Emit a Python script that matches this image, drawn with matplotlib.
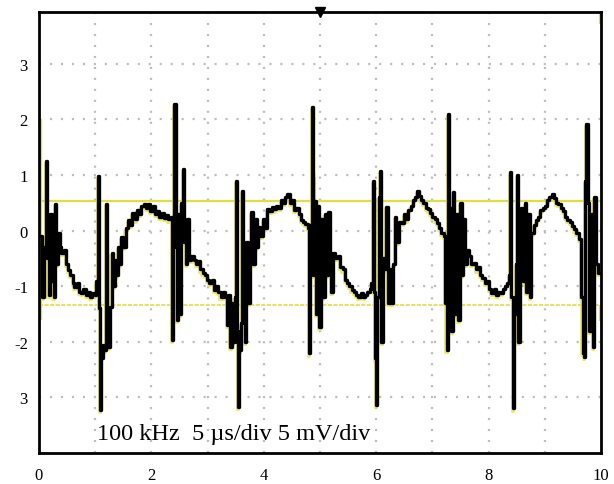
import numpy as np
import matplotlib
matplotlib.use("Agg")
import matplotlib.pyplot as plt
import matplotlib.transforms as mtransforms

plt.rcParams["font.family"] = ["Liberation Serif", "DejaVu Serif"]
plt.rcParams["lines.scale_dashes"] = False

# ---- scope trace (divisions) ----
trace_t = [0.03, 0.06, 0.09, 0.12, 0.14, 0.17, 0.20, 0.23, 0.26, 0.29, 0.31, 0.34, 0.37, 0.40,
           0.44, 0.48, 0.52, 0.56, 0.60, 0.63, 0.67, 0.71, 0.75, 0.79, 0.83, 0.87, 0.91, 0.95,
           0.99, 1.02, 1.05, 1.07, 1.08, 1.10, 1.13, 1.16, 1.19, 1.21, 1.23, 1.26, 1.29, 1.32,
           1.35, 1.38, 1.41, 1.44, 1.46, 1.50, 1.54, 1.58, 1.62, 1.66, 1.70, 1.74, 1.78, 1.82,
           1.86, 1.90, 1.94, 1.98, 2.02, 2.06, 2.10, 2.14, 2.18, 2.22, 2.26, 2.30, 2.34, 2.37,
           2.39, 2.41, 2.43, 2.45, 2.48, 2.50, 2.53, 2.56, 2.58, 2.61, 2.64, 2.67, 2.71, 2.75,
           2.79, 2.83, 2.87, 2.91, 2.95, 2.99, 3.03, 3.07, 3.11, 3.15, 3.19, 3.23, 3.27, 3.31,
           3.34, 3.37, 3.40, 3.43, 3.46, 3.48, 3.51, 3.53, 3.54, 3.56, 3.59, 3.61, 3.63, 3.66,
           3.69, 3.72, 3.75, 3.78, 3.81, 3.84, 3.87, 3.90, 3.94, 3.98, 4.02, 4.06, 4.10, 4.14,
           4.18, 4.22, 4.26, 4.30, 4.34, 4.38, 4.42, 4.46, 4.50, 4.54, 4.58, 4.62, 4.66, 4.70,
           4.74, 4.78, 4.81, 4.83, 4.85, 4.87, 4.90, 4.93, 4.96, 4.99, 5.02, 5.05, 5.08, 5.11,
           5.14, 5.17, 5.20, 5.23, 5.27, 5.32, 5.36, 5.40, 5.44, 5.48, 5.52, 5.56, 5.60, 5.64,
           5.68, 5.72, 5.76, 5.80, 5.84, 5.88, 5.91, 5.94, 5.96, 5.98, 6.00, 6.02, 6.04, 6.06,
           6.08, 6.09, 6.12, 6.15, 6.18, 6.21, 6.24, 6.27, 6.30, 6.33, 6.36, 6.40, 6.45, 6.49,
           6.53, 6.57, 6.61, 6.65, 6.69, 6.72, 6.76, 6.80, 6.84, 6.88, 6.92, 6.96, 7.00, 7.04,
           7.08, 7.12, 7.16, 7.20, 7.23, 7.25, 7.27, 7.28, 7.30, 7.33, 7.36, 7.39, 7.42, 7.46,
           7.49, 7.52, 7.55, 7.58, 7.61, 7.65, 7.69, 7.73, 7.77, 7.81, 7.85, 7.89, 7.93, 7.97,
           8.01, 8.05, 8.09, 8.13, 8.17, 8.21, 8.25, 8.29, 8.33, 8.36, 8.38, 8.40, 8.43, 8.45,
           8.48, 8.50, 8.52, 8.55, 8.58, 8.61, 8.64, 8.67, 8.70, 8.73, 8.76, 8.80, 8.84, 8.88,
           8.92, 8.96, 9.00, 9.04, 9.08, 9.12, 9.16, 9.20, 9.24, 9.28, 9.32, 9.36, 9.40, 9.44,
           9.48, 9.52, 9.56, 9.60, 9.64, 9.67, 9.70, 9.72, 9.74, 9.76, 9.79, 9.82, 9.85, 9.88,
           9.91, 9.95, 9.97]
trace_v = [-0.10, -1.19, -0.30, 1.26, -0.50, -1.15, 0.30, -0.90, -1.20, 0.48, -0.60, -0.05, -0.30, -0.41,
           -0.35, -0.60, -0.71, -0.80, -0.95, -1.01, -0.95, -1.10, -1.13, -1.05, -1.15, -1.10, -1.20, -1.12,
           -1.15, -0.90, 0.99, -1.40, -3.23, -2.30, -2.05, -2.15, 0.48, -1.70, -2.10, -1.37, -0.40, -1.00,
           -0.53, -0.80, -0.30, -0.60, -0.11, -0.30, 0.05, 0.19, 0.10, 0.31, 0.20, 0.37, 0.30, 0.45,
           0.48, 0.40, 0.48, 0.35, 0.45, 0.30, 0.35, 0.25, 0.31, 0.22, 0.28, 0.20, 0.25, -1.97,
           0.10, 2.28, -0.30, -1.60, 0.30, -1.50, 0.50, 1.11, -0.20, -0.60, 0.20, -0.53, -0.45, -0.53,
           -0.60, -0.55, -0.70, -0.77, -0.80, -0.89, -0.95, -0.89, -1.07, -1.00, -1.10, -1.19, -1.10, -1.19,
           -1.70, -1.15, -2.10, -1.30, -2.00, -1.20, 0.90, -1.80, -3.17, -2.15, -1.67, 0.72, -1.50, -2.00,
           -0.20, -1.31, -0.40, 0.33, -0.60, 0.20, -0.30, 0.07, -0.10, 0.20, 0.05, 0.39, 0.35, 0.42,
           0.38, 0.45, 0.40, 0.55, 0.50, 0.60, 0.66, 0.50, 0.55, 0.37, 0.40, 0.30, 0.19, 0.15,
           0.12, 0.05, -2.21, 0.10, 2.22, -0.80, 0.54, -1.50, 0.45, -1.73, 0.20, -1.20, 0.30, -0.80,
           0.34, -0.40, -1.10, -0.41, -0.50, -0.45, -0.65, -0.70, -0.89, -0.95, -1.00, -1.07, -1.10, -1.15,
           -1.19, -1.12, -1.20, -1.15, -1.10, -1.05, -0.95, 0.90, -1.10, -2.30, -3.14, -1.20, 0.60, 1.08,
           -1.50, -2.00, -0.50, -0.70, 0.42, -1.31, -0.70, -1.31, -0.60, 0.25, -0.20, 0.15, 0.13, 0.30,
           0.20, 0.37, 0.45, 0.55, 0.60, 0.72, 0.62, 0.55, 0.50, 0.40, 0.38, 0.31, 0.25, 0.20,
           0.13, 0.05, -0.05, -0.10, -1.30, -2.15, 0.30, 2.10, 0.40, -1.80, 0.70, -1.50, 0.30, -1.60,
           0.50, -0.80, 0.20, -0.60, -0.35, -0.45, -0.60, -0.59, -0.70, -0.65, -0.80, -0.85, -0.95, -0.90,
           -1.05, -1.13, -1.05, -1.15, -1.10, -1.13, -1.05, -1.00, -0.95, -0.80, 1.05, -1.20, -3.20, -1.50,
           -0.60, 1.00, -2.00, -0.70, 0.40, -0.90, 0.50, -1.10, 0.30, -1.20, -0.05, 0.10, 0.19, 0.25,
           0.37, 0.40, 0.45, 0.55, 0.60, 0.66, 0.58, 0.50, 0.48, 0.40, 0.35, 0.25, 0.19, 0.15,
           0.08, 0.02, -0.05, -0.15, -1.20, -2.20, -2.27, 0.90, 1.92, 0.50, -1.80, 0.30, -2.10, 0.60,
           -0.60, -0.77, -0.77]

# yellow reference levels and short yellow verticals
level_hi = 0.54
level_lo = -1.33
yel_x = [0.03, 2.46, 4.91, 9.98, 9.98]
yel_top = [2.0, 2.0, 0.97, 3.93, -1.33]
yel_bot = [-1.6, 0.54, 0.54, 3.72, -1.62]

x_ticks = [0, 2, 4, 6, 8, 10]
y_ticks = [3, 2, 1, 0, -1, -2, -3]
y_labels = ["3", "2", "1", "0", "-1", "-2", "3"]
caption = "100 kHz  5 \u00b5s/div 5 mV/div"

fig = plt.figure(figsize=(6.14, 4.85), dpi=100)
ax = fig.add_axes([0.0635, 0.064, 0.9155, 0.909])
ax.set_xlim(0, 10)
ax.set_ylim(-4, 3.93)

# dotted scope graticule
grid_kw = dict(color="#bdbdbd", lw=1.6, dashes=(1.5, 6.4), zorder=0)
for gx in range(1, 10):
    ax.axvline(gx, **grid_kw)
for gy in range(-3, 4):
    ax.axhline(gy, **grid_kw)

ax.axhline(level_hi, color="#e3dd45", lw=1.6, zorder=1)
ax.axhline(level_lo, color="#e3dd45", lw=1.2, dashes=(3, 1), zorder=1)
ax.vlines(yel_x, yel_bot, yel_top, color="#e3dd45", lw=1.6, zorder=1)

halo = mtransforms.offset_copy(ax.transData, fig=fig, x=-0.8, y=-1.5, units="points")
ax.plot(trace_t, trace_v, drawstyle="steps-post", color="#e8e25a", lw=2.2,
        alpha=0.8, transform=halo, zorder=2)
ax.plot(trace_t, trace_v, drawstyle="steps-post", color="black", lw=2.4, zorder=3)

# trigger marker at top
ax.plot([5.0], [3.93], marker="v", color="black", ms=7, clip_on=False, zorder=4)

ax.text(1.03, -3.65, caption, fontsize=17.5, va="center", ha="left")

ax.set_xticks(x_ticks)
ax.set_yticks(y_ticks)
ax.set_yticklabels(y_labels)
ax.tick_params(axis="both", length=0, labelsize=12)
ax.tick_params(axis="x", pad=10)
ax.tick_params(axis="y", pad=8)
for s in ax.spines.values():
    s.set_linewidth(2.0)
    s.set_color("black")

fig.savefig("out.png", dpi=100)
